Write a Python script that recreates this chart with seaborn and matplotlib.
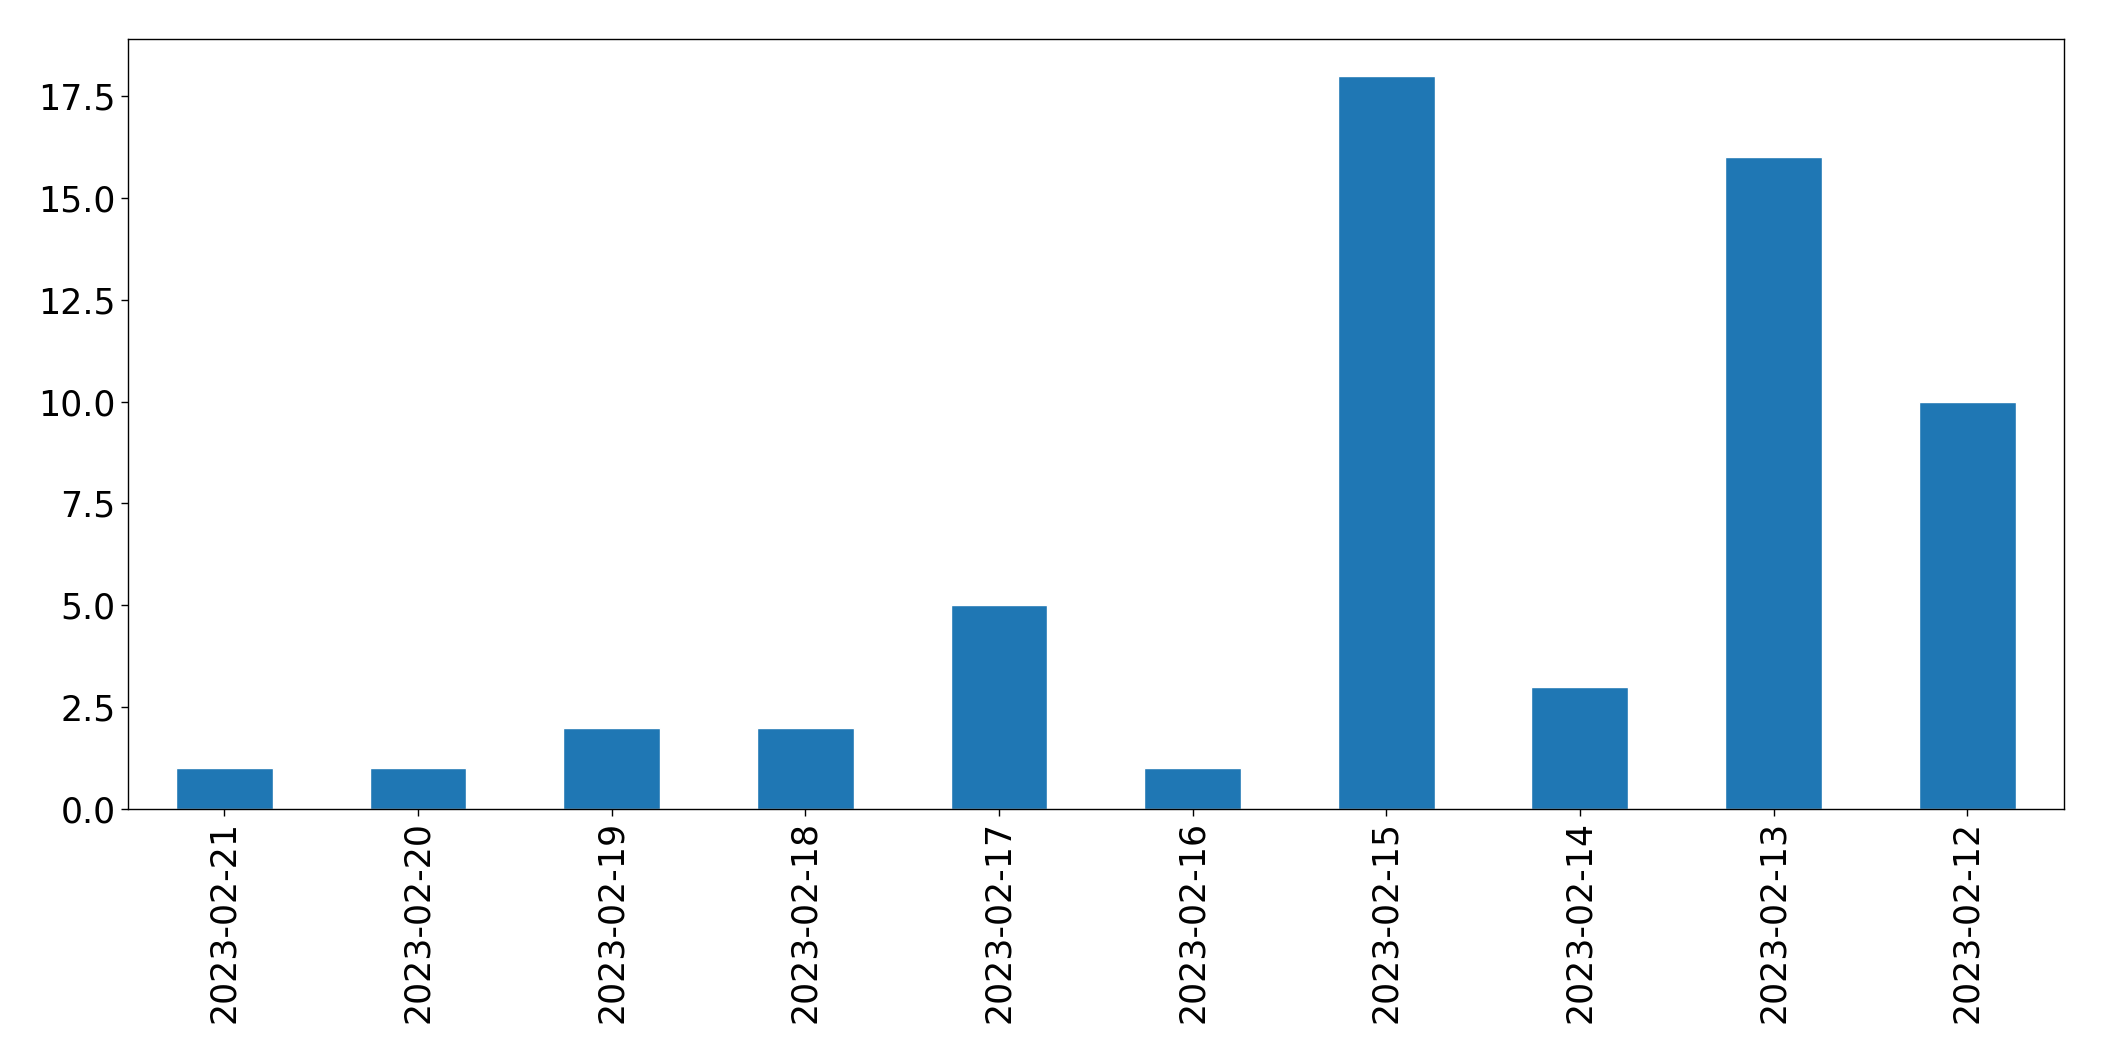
import pandas as pd
import matplotlib
matplotlib.use('Agg')
import matplotlib.pyplot as plt
import seaborn as sns

# Data: counts per day (newest first)
dates = ['2023-02-21', '2023-02-20', '2023-02-19', '2023-02-18', '2023-02-17',
         '2023-02-16', '2023-02-15', '2023-02-14', '2023-02-13', '2023-02-12']
counts = [1, 1, 2, 2, 5, 1, 18, 3, 16, 10]

df = pd.DataFrame({'date': dates, 'count': counts})

sns.set_style('ticks')
plt.rcParams['font.family'] = ['DejaVu Sans']

fig = plt.figure(figsize=(21.04, 10.61), dpi=100)
ax = fig.add_axes([0.0606, 0.2375, 0.9204, 0.7257])

sns.barplot(data=df, x='date', y='count', color='#1f77b4', saturation=1,
            width=0.5, ax=ax)

ax.set_xlim(-0.5, len(dates) - 0.5)
ax.set_ylim(0, max(counts) * 1.05)
ax.set_yticks([0, 2.5, 5, 7.5, 10, 12.5, 15, 17.5])
ax.set_yticklabels(['0.0', '2.5', '5.0', '7.5', '10.0', '12.5', '15.0', '17.5'])
ax.set_xlabel('')
ax.set_ylabel('')
ax.tick_params(axis='both', labelsize=25, direction='out', length=5, width=1, colors='black')
ax.tick_params(axis='x', labelrotation=90)
for s in ax.spines.values():
    s.set_visible(True)
    s.set_color('black')
    s.set_linewidth(1)

fig.savefig('out.png', dpi=100)
